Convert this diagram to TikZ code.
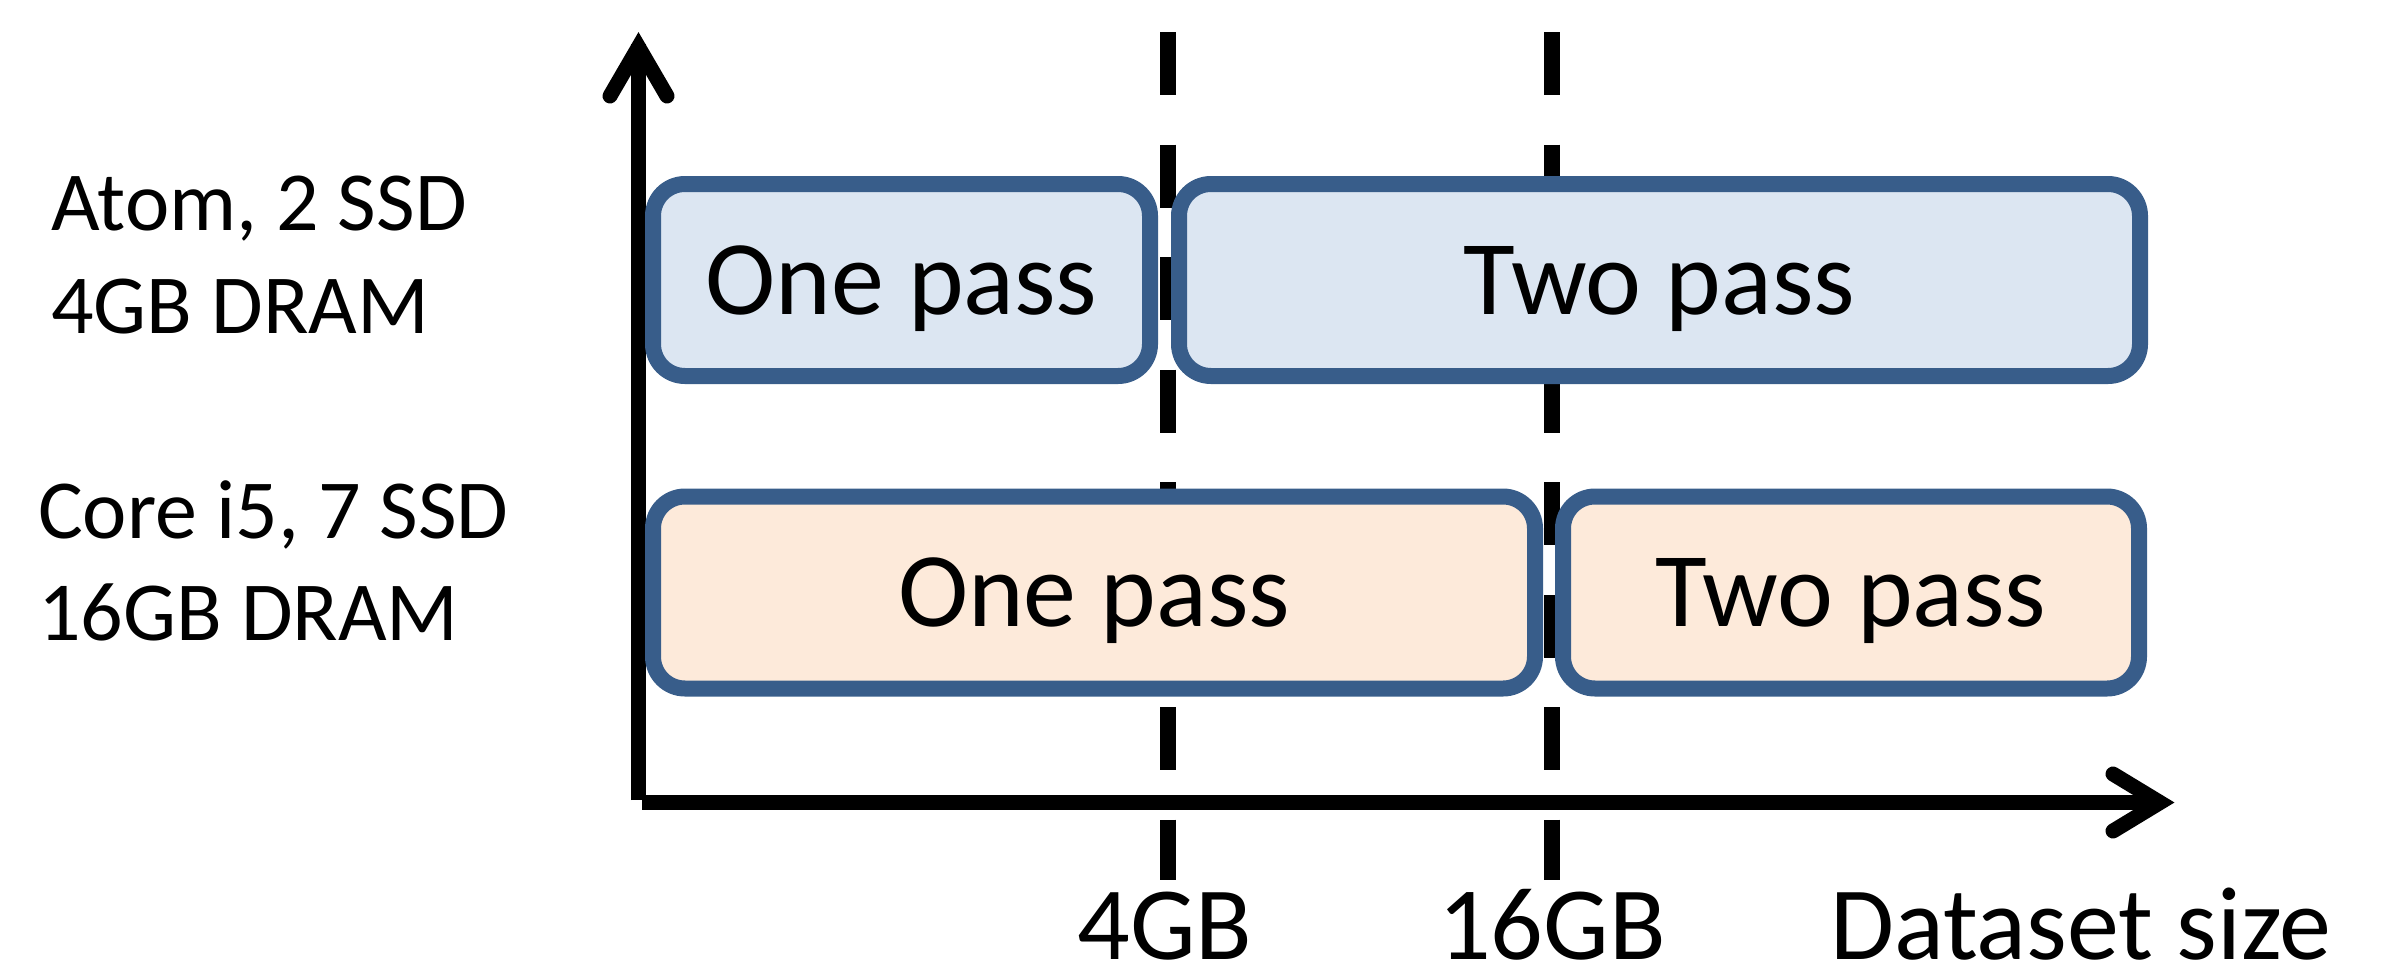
\documentclass[tikz,border=0pt]{standalone}
\usepackage{fontspec}
\setmainfont{Carlito}
\definecolor{boxline}{HTML}{385D8A}
\definecolor{atomfill}{HTML}{DCE6F2}
\definecolor{corefill}{HTML}{FDEADA}
\tikzset{
  axisline/.style={line width=15pt, line cap=butt},
  axishead/.style={line width=15pt, line cap=round, line join=miter},
  limitline/.style={line width=16pt, dash pattern=on 63pt off 49.5pt},
  passbox/.style={draw=boxline, line width=16pt, rounded corners=32pt,
    inner sep=0pt, minimum height=192pt, text height=68pt, text depth=0pt,
    font=\fontsize{106}{128}\selectfont},
  machinelabel/.style={anchor=base west, inner sep=0pt,
    font=\fontsize{84}{102}\selectfont},
  ticklabel/.style={anchor=base, inner sep=0pt,
    font=\fontsize{104}{126}\selectfont}
}
\begin{document}
\begin{tikzpicture}[x=1pt, y=-1pt]
  \useasboundingbox (0,0) rectangle (2395,969);

  % memory limits (drawn first, boxes cover them)
  \coordinate (g4top) at (1168,32);
  \coordinate (g4bot) at (1168,880);
  \coordinate (g16top) at (1552,32);
  \coordinate (g16bot) at (1552,880);
  \draw[limitline] (g4top) -- (g4bot);
  \draw[limitline] (g16top) -- (g16bot);

  % axes
  \coordinate (ybot) at (638.5,800);
  \coordinate (ytip) at (638.5,47);
  \coordinate (xleft) at (642,802.5);
  \coordinate (xtip) at (2160,802.5);
  \draw[axisline] (ybot) -- ([yshift=3pt]ytip);
  \draw[axisline] (xleft) -- ([xshift=-3pt]xtip);
  \draw[axishead] ([shift={(-28.5,49)}]ytip) -- (ytip) -- ([shift={(28.5,49)}]ytip);
  \draw[axishead] ([shift={(-47,-28.5)}]xtip) -- (xtip) -- ([shift={(-47,28.5)}]xtip);

  % Atom row
  \node[passbox, fill=atomfill, minimum width=497pt] (atomone) at (901.5,280) {One pass};
  \node[passbox, fill=atomfill, minimum width=961pt] (atomtwo) at (1659.5,280) {Two pass};

  % Core i5 row
  \node[passbox, fill=corefill, minimum width=882pt] (coreone) at (1094,592.5) {One pass};
  \node[passbox, fill=corefill, minimum width=576pt] (coretwo) at (1851,592.5) {Two pass};

  % machine descriptions
  \node[machinelabel] (atomA) at (51,230) {Atom, 2 SSD};
  \node[machinelabel] (atomB) at (51,333) {4GB DRAM};
  \node[machinelabel] (coreA) at (38,538) {Core i5, 7 SSD};
  \node[machinelabel] (coreB) at (38,640) {16GB DRAM};

  % axis labels
  \node[ticklabel] (l4) at (1165,959) {4GB};
  \node[ticklabel] (l16) at (1552,959) {16GB};
  \node[ticklabel, anchor=base west] (lsize) at (1830,959) {Dataset size};
\end{tikzpicture}
\end{document}
